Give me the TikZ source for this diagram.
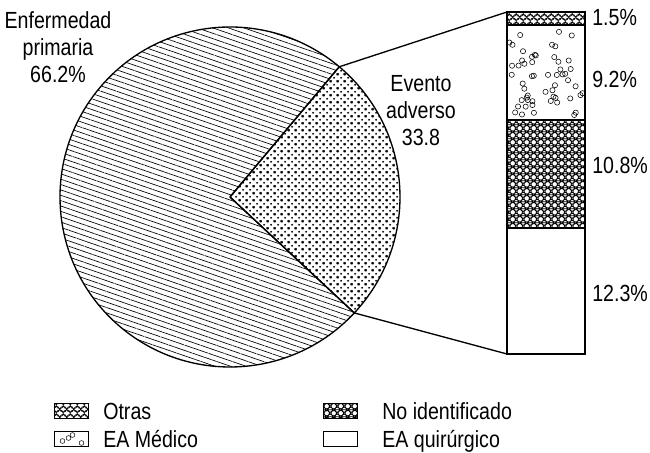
\documentclass[tikz,border=0pt]{standalone}
\usepackage{fontspec}
\setmainfont[FakeStretch=0.84]{Liberation Sans}
\usepackage{tikz}
\usetikzlibrary{patterns,patterns.meta,positioning}

% dotted fill of the adverse events slice
\pgfdeclarepatternformonly{dotgrid}{\pgfqpoint{0pt}{0pt}}{\pgfqpoint{5.3pt}{5.3pt}}{\pgfqpoint{5.3pt}{5.3pt}}{%
  \pgfpathcircle{\pgfqpoint{0pt}{0pt}}{0.85pt}
  \pgfpathcircle{\pgfqpoint{5.3pt}{0pt}}{0.85pt}
  \pgfpathcircle{\pgfqpoint{0pt}{5.3pt}}{0.85pt}
  \pgfpathcircle{\pgfqpoint{5.3pt}{5.3pt}}{0.85pt}
  \pgfpathcircle{\pgfqpoint{2.65pt}{2.65pt}}{0.85pt}
  \pgfusepath{fill}}
% scales for "Otras"
\pgfdeclarepatternformonly{scales}{\pgfqpoint{0pt}{0pt}}{\pgfqpoint{5pt}{6pt}}{\pgfqpoint{5pt}{6pt}}{%
  \pgfsetlinewidth{0.45pt}
  \pgfpathcircle{\pgfqpoint{0pt}{0pt}}{2.5pt}
  \pgfpathcircle{\pgfqpoint{5pt}{0pt}}{2.5pt}
  \pgfpathcircle{\pgfqpoint{0pt}{6pt}}{2.5pt}
  \pgfpathcircle{\pgfqpoint{5pt}{6pt}}{2.5pt}
  \pgfpathcircle{\pgfqpoint{2.5pt}{3pt}}{2.5pt}
  \pgfusepath{stroke}}
% dense knots for "No identificado"
\pgfdeclarepatternformonly{knots}{\pgfqpoint{0pt}{0pt}}{\pgfqpoint{5pt}{5pt}}{\pgfqpoint{5pt}{5pt}}{%
  \pgfsetlinewidth{0.6pt}
  \pgfpathcircle{\pgfqpoint{0pt}{0pt}}{1.9pt}
  \pgfpathcircle{\pgfqpoint{5pt}{0pt}}{1.9pt}
  \pgfpathcircle{\pgfqpoint{0pt}{5pt}}{1.9pt}
  \pgfpathcircle{\pgfqpoint{5pt}{5pt}}{1.9pt}
  \pgfpathcircle{\pgfqpoint{2.5pt}{2.5pt}}{1.9pt}
  \pgfpathmoveto{\pgfqpoint{0pt}{2.5pt}}
  \pgfpathlineto{\pgfqpoint{5pt}{2.5pt}}
  \pgfusepath{stroke}}

\tikzset{
  slice/.style={draw, line width=1pt, line join=round},
  seg/.style={draw, line width=1pt, minimum width=58.5pt, inner sep=0pt, outer sep=0pt},
  lbl/.style={font=\fontsize{17.5}{20.25}\selectfont, align=center, inner sep=0pt},
  legtext/.style={font=\fontsize{17.5}{20.25}\selectfont, inner sep=0pt, text height=12.5pt, text depth=0pt},
  swatch/.style={draw, line width=0.8pt, minimum width=25.5pt, minimum height=11pt, inner sep=0pt},
  bubble/.style={line width=0.4pt},
}

\begin{document}
\begin{tikzpicture}[x=0.75pt, y=0.75pt]
\useasboundingbox (0,0) rectangle (650,453);
% Pie
\coordinate (c) at (230,256);
\coordinate (up) at ([shift={(50:170)}]c);
\coordinate (low) at ([shift={(-43:170)}]c);
\draw[slice, pattern={Lines[angle=-19, distance=3.8pt, line width=0.5pt]}] 
	(c) -- (up) arc[start angle=50, end angle=317, radius=170] -- cycle;
\draw[slice, pattern=dotgrid] 
	(c) -- (low) arc[start angle=-43, end angle=50, radius=170] -- cycle;
\node[lbl] (enf) at (58,406) {Enfermedad\\primaria\\66.2\%};
\node[lbl] (ev) at (421,342) {Evento\\adverso\\33.8};
% Bar of the adverse events
\node[seg, pattern=scales, minimum height=9.75pt, anchor=north west] (otras) at (507,441) {};
\node[seg, minimum height=71.25pt, below=0pt of otras] (medico) {};
\node[seg, pattern=knots, minimum height=81pt, below=0pt of medico] (noid) {};
\node[seg, minimum height=94.5pt, below=0pt of noid] (quir) {};
% scattered bubbles of "EA Medico"
\begin{scope}
\clip (medico.south west) rectangle (medico.north east);
\pgfmathsetseed{11}
\foreach \i in {1,...,55}{
	\pgfmathsetmacro{\bx}{509+76*rnd}
	\pgfmathsetmacro{\by}{334+92*rnd}
	\draw[bubble] (\bx,\by) circle[radius=2.6];
}
\end{scope}
% Percentages
\node[lbl, anchor=west] (p1) at (592,435) {1.5\%};
\node[lbl, anchor=west] (p2) at (592,374) {9.2\%};
\node[lbl, anchor=west] (p3) at (592,288) {10.8\%};
\node[lbl, anchor=west] (p4) at (592,160) {12.3\%};
% Connectors pie -- bar
\draw[slice] (up) -- (otras.north west);
\draw[slice] (low) -- (quir.south west);
% Legend
\node[swatch, pattern=scales] (kotras) at (71.5,42) {};
\node[legtext, right=10.5pt of kotras] (totras) {Otras};
\node[swatch] (kmed) at (71.5,14) {};
\draw[bubble] ([shift={(-9,-2)}]kmed.center) circle[radius=2.4]
	([shift={(-3,1)}]kmed.center) circle[radius=2.4]
	([shift={(1,4)}]kmed.center) circle[radius=2.4]
	([shift={(10,-4)}]kmed.center) circle[radius=2.4];
\node[legtext, right=10.5pt of kmed] (tmed) {EA Médico};
\node[swatch, pattern=knots] (knoid) at (340.5,42) {};
\node[legtext, right=18pt of knoid] (tnoid) {No identificado};
\node[swatch] (kquir) at (340.5,14) {};
\node[legtext, right=18pt of kquir] (tquir) {EA quirúrgico};

\end{tikzpicture}
\end{document}
